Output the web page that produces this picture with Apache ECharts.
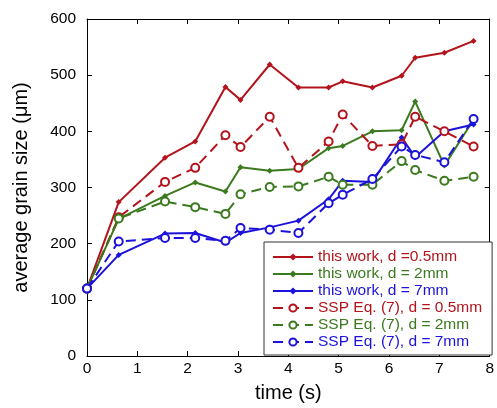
<!DOCTYPE html>
<html><head><meta charset="utf-8">
<script src="https://cdn.jsdelivr.net/npm/echarts@6/dist/echarts.min.js"></script>
<style>html,body{margin:0;padding:0;background:#fff}#c{width:497px;height:408px}</style>
</head><body><div id="c"></div>
<script>
const times = [0, 0.63, 1.55, 2.15, 2.75, 3.05, 3.63, 4.2, 4.8, 5.08, 5.67, 6.25, 6.52, 7.1, 7.68];
const work05 = [120, 274, 353, 382, 479, 456, 519, 478, 478, 489, 478, 499, 531, 540, 561];
const work2  = [120, 244, 285, 309, 293, 336, 330, 333, 370, 374, 400, 402, 453, 339, 421];
const work7  = [120, 180, 218, 219, 202, 219, 229, 241, 279, 312, 310, 389, 354, 400, 412];
const ssp05  = [120, 247, 310, 335, 393, 372, 426, 335, 382, 430, 374, 377, 426, 400, 373];
const ssp2   = [120, 245, 275, 265, 253, 288, 301, 302, 319, 305, 305, 347, 331, 312, 319];
const ssp7   = [120, 204, 210, 210, 205, 228, 225, 219, 272, 287, 315, 373, 358, 345, 422];
const names = ["this work, d =0.5mm", "this work, d = 2mm", "this work, d = 7mm",
               "SSP Eq. (7), d = 0.5mm", "SSP Eq. (7), d = 2mm", "SSP Eq. (7), d = 7mm"];
const RED = '#b3141c', GREEN = '#3b7a1e', BLUE = '#1c12dc';
const colors = [RED, GREEN, BLUE, RED, GREEN, BLUE];
const values = [work05, work2, work7, ssp05, ssp2, ssp7];
const font = 'Liberation Sans, Arial, sans-serif';

const series = values.map((v, i) => {
  const dashed = i >= 3;
  return {
    name: names[i], type: 'line',
    data: times.map((t, k) => [t, v[k]]),
    symbol: dashed ? 'emptyCircle' : 'diamond',
    symbolSize: dashed ? 8 : 6,
    showSymbol: true,
    itemStyle: { color: colors[i], borderColor: colors[i], borderWidth: dashed ? 1 : 0 },
    lineStyle: { color: colors[i], width: 2, type: dashed ? [10, 6] : 'solid' },
    z: 2 + i, animation: false, emphasis: { disabled: true }
  };
});

const chart = echarts.init(document.getElementById('c'), null, { renderer: 'canvas' });
chart.setOption({
  animation: false,
  backgroundColor: '#fff',
  grid: { left: 87, right: 4, top: 19, bottom: 48 },
  legend: {
    left: 264, top: 242, orient: 'vertical',
    itemWidth: 40, itemHeight: 9, itemGap: 1,
    padding: [7, 10, 5, 8],
    borderColor: '#333', borderWidth: 1, backgroundColor: '#fff',
    data: names.map((n, i) => ({ name: n, textStyle: { color: colors[i] } })),
    textStyle: { fontFamily: font, fontSize: 15.5 },
    z: 20
  },
  xAxis: [{
    type: 'value', min: 0, max: 8, interval: 1,
    name: 'time (s)', nameLocation: 'middle', nameGap: 27,
    nameTextStyle: { fontFamily: font, fontSize: 20, color: '#000' },
    axisLine: { onZero: false, lineStyle: { color: '#000', width: 1 } },
    axisTick: { inside: true, length: 5, lineStyle: { color: '#000' } },
    axisLabel: { fontFamily: font, fontSize: 15.5, color: '#000', margin: 5, showMaxLabel: true },
    splitLine: { show: false }
  }, {
    type: 'value', min: 0, max: 8, interval: 1, position: 'top',
    axisLine: { onZero: false, lineStyle: { color: '#000', width: 1 } },
    axisTick: { inside: true, length: 5, lineStyle: { color: '#000' } },
    axisLabel: { show: false }, splitLine: { show: false }
  }],
  yAxis: [{
    type: 'value', min: 0, max: 600, interval: 100,
    name: 'average grain size (\u03bcm)', nameLocation: 'middle', nameGap: 56, nameRotate: 90,
    nameTextStyle: { fontFamily: font, fontSize: 20, color: '#000' },
    axisLine: { show: true, onZero: false, lineStyle: { color: '#000', width: 1 } },
    axisTick: { show: true, inside: true, length: 5, lineStyle: { color: '#000' } },
    axisLabel: { fontFamily: font, fontSize: 15.5, color: '#000', margin: 11 },
    splitLine: { show: false }
  }, {
    type: 'value', min: 0, max: 600, interval: 100, position: 'right',
    axisLine: { show: true, onZero: false, lineStyle: { color: '#000', width: 1 } },
    axisTick: { show: true, inside: true, length: 5, lineStyle: { color: '#000' } },
    axisLabel: { show: false }, splitLine: { show: false }
  }],
  series: series
});
</script></body></html>
